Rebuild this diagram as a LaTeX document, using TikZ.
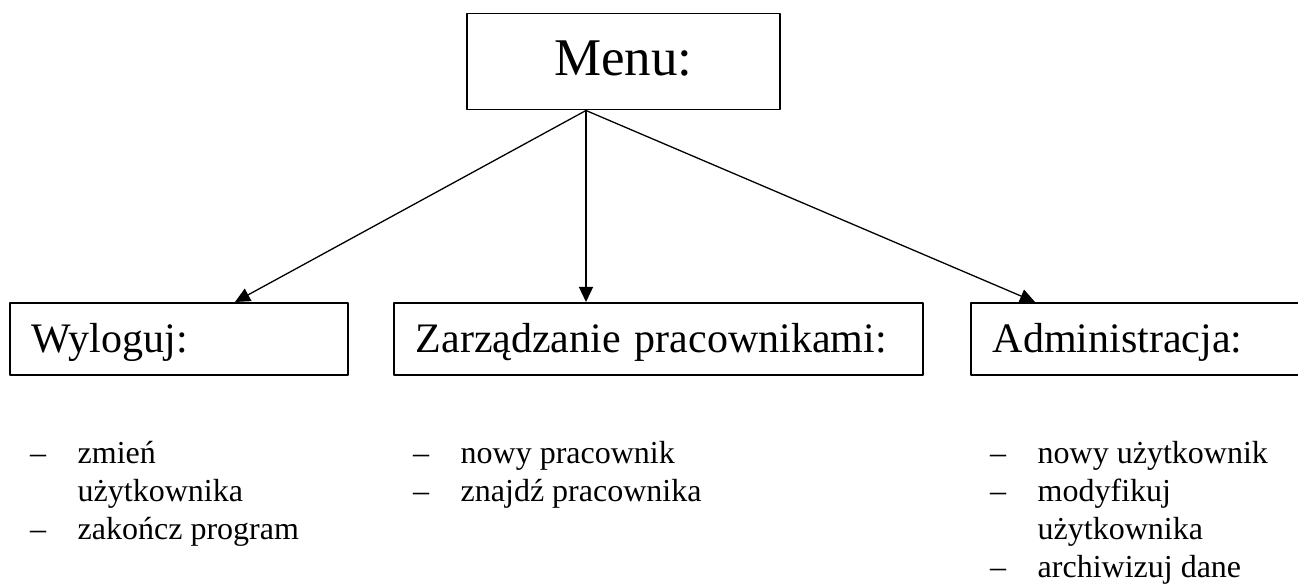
\documentclass[tikz,border=0pt]{standalone}
\usepackage{fontspec}
\setmainfont{Liberation Serif}
\usetikzlibrary{arrows.meta}
\newcommand\kreska{\makebox[47.5pt][l]{–}}
\newcommand\wciecie{\hspace*{47.5pt}}
\begin{document}
\begin{tikzpicture}[x=1pt, y=-1pt, line join=round, line cap=round,
		>={Triangle[length=15pt,width=14pt]},
		pole/.style={draw, line width=1.5pt, anchor=north west, inner xsep=22pt,
			inner ysep=0pt, minimum height=72pt, text width=#1, align=left,
			text height=30pt, text depth=2pt, font=\fontsize{42}{50}\selectfont},
		lista/.style={anchor=base west, inner sep=0pt, font=\fontsize{32}{38}\selectfont}]
	\useasboundingbox (0,0) rectangle (1298,585);
	\node[draw, line width=1.5pt, anchor=north west, minimum width=313pt,
		minimum height=96pt, inner sep=0pt, text height=35pt, text depth=7pt,
		font=\fontsize{53}{60}\selectfont] (menu) at (466,13) {Menu:};
	\node[pole=294pt] (wyl) at (9,302) {Wyloguj:};
	\node[pole=485pt] (zarz) at (393,302) {Zarządzanie pracownikami:};
	\node[pole=296pt] (adm) at (970,302) {Administracja:};
	\path ([xshift=120pt]menu.south west) coordinate (zrodlo)
	([xshift=226pt]wyl.north west) coordinate (wylT)
	(zrodlo |- zarz.north) coordinate (zarzT)
	([xshift=65pt]adm.north west) coordinate (admT)
	;
	\foreach \c in {wylT,zarzT,admT}
	\draw[->, line width=1.3pt] (zrodlo) -- (\c);
	% listy pod polami
	\node[lista] (lw) at (30,463) {\begin{tabular}[t]{@{}l@{}}
			\kreska zmień\\ \wciecie użytkownika\\ \kreska zakończ program
		\end{tabular}};
	\node[lista] (lz) at (413,463) {\begin{tabular}[t]{@{}l@{}}
			\kreska nowy pracownik\\ \kreska znajdź pracownika
		\end{tabular}};
	\node[lista] (la) at (990,463) {\begin{tabular}[t]{@{}l@{}}
			\kreska nowy użytkownik\\ \kreska modyfikuj\\ \wciecie użytkownika\\
			\kreska archiwizuj dane
		\end{tabular}};
\end{tikzpicture}
\end{document}
